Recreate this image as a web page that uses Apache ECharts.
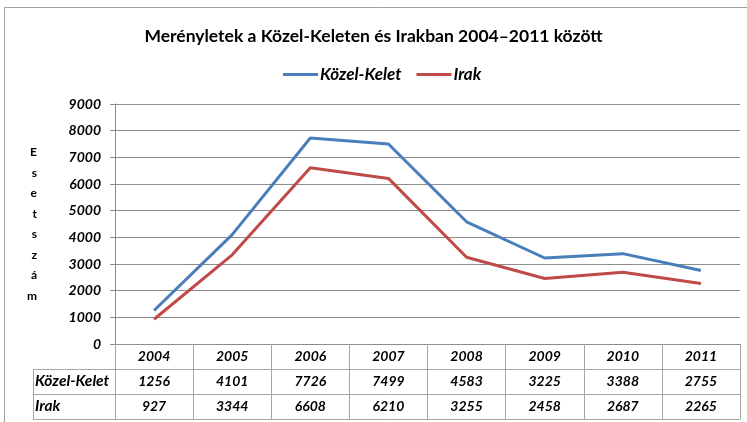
<!DOCTYPE html>
<html><head><meta charset="utf-8">
<script src="https://cdn.jsdelivr.net/npm/echarts@6/dist/echarts.min.js"></script>
<style>html,body{margin:0;padding:0;background:#fff}#c{width:747px;height:422px}</style>
</head><body><div id="c"></div>
<script>
var years = ['2004','2005','2006','2007','2008','2009','2010','2011'];
var seriesNames = ['Közel-Kelet','Irak'];
var kozelKelet = [1256,4101,7726,7499,4583,3225,3388,2755];
var irak = [927,3344,6608,6210,3255,2458,2687,2265];
var yTicks = [0,1000,2000,3000,4000,5000,6000,7000,8000,9000];
var titleText = 'Merényletek a Közel-Keleten és Irakban 2004–2011 között';
var yName = 'Esetszám';

var FONT = 'Lato';
var GRID = '#8c8c8c';
var TBL = '#a6a6a6';
var chart = echarts.init(document.getElementById('c'), null, {renderer:'canvas'});
chart.setOption({
  animation:false,
  backgroundColor:'#fff',
  title:{text:titleText, left:'center', top:22, textStyle:{fontFamily:FONT, fontSize:17.5, fontWeight:'bold', color:'#000'}},
  legend:{data:seriesNames, top:61, left:278, icon:'rect', itemWidth:35, itemHeight:3, itemGap:15,
    textStyle:{fontFamily:FONT, fontSize:17, fontWeight:'bold', fontStyle:'italic', color:'#000', padding:[0,0,0,-3]}},
  grid:{left:115, right:7, top:104, bottom:78, containLabel:false},
  xAxis:{type:'category', data:years, boundaryGap:true,
    axisLine:{show:true, lineStyle:{color:GRID, width:1}},
    axisTick:{show:true, interval:0, length:75, lineStyle:{color:TBL}},
    axisLabel:{interval:0, margin:0,
      formatter:function(v, i){ return '{a|'+v+'}\n{a|'+kozelKelet[i]+'}\n{a|'+irak[i]+'}'; },
      rich:{a:{fontFamily:FONT, fontSize:14, fontWeight:'bold', fontStyle:'italic', color:'#000', lineHeight:25, height:25}}}
  },
  yAxis:{type:'value', min:yTicks[0], max:yTicks[yTicks.length-1], interval:1000,
    name:yName.split('').join('\n'), nameLocation:'middle', nameGap:78, nameRotate:0,
    nameTextStyle:{fontFamily:FONT, fontSize:12, fontWeight:'bold', color:'#000', lineHeight:20.5},
    axisLine:{show:true, lineStyle:{color:GRID}},
    axisTick:{show:true, length:5, lineStyle:{color:GRID}},
    axisLabel:{margin:14, fontFamily:FONT, fontSize:14, fontWeight:'bold', fontStyle:'italic', color:'#000',
      formatter:function(v){ return String(v); }},
    splitLine:{show:true, lineStyle:{color:GRID, width:1}}
  },
  series:[
    {name:seriesNames[0], type:'line', data:kozelKelet, symbol:'none', lineStyle:{width:3, color:'#4A7EBB'}, itemStyle:{color:'#4A7EBB'}},
    {name:seriesNames[1], type:'line', data:irak, symbol:'none', lineStyle:{width:3, color:'#BE4B48'}, itemStyle:{color:'#BE4B48'}}
  ],
  graphic:[
    {type:'rect', shape:{x:4.5, y:7.5, width:800, height:500}, style:{fill:null, stroke:'#a0a0a0', lineWidth:1}, silent:true},
    {type:'line', shape:{x1:33, y1:369.5, x2:740, y2:369.5}, style:{stroke:TBL, lineWidth:1}},
    {type:'line', shape:{x1:33, y1:394.5, x2:740, y2:394.5}, style:{stroke:TBL, lineWidth:1}},
    {type:'line', shape:{x1:33, y1:419.5, x2:740, y2:419.5}, style:{stroke:TBL, lineWidth:1}},
    {type:'line', shape:{x1:33.5, y1:369.5, x2:33.5, y2:419.5}, style:{stroke:TBL, lineWidth:1}},
    {type:'text', left:35, top:373, style:{text:seriesNames[0], fontFamily:FONT, fontSize:15.5, fontWeight:'bold', fontStyle:'italic', fill:'#000'}},
    {type:'text', left:35, top:398, style:{text:seriesNames[1], fontFamily:FONT, fontSize:15.5, fontWeight:'bold', fontStyle:'italic', fill:'#000'}}
  ]
});
</script></body></html>
